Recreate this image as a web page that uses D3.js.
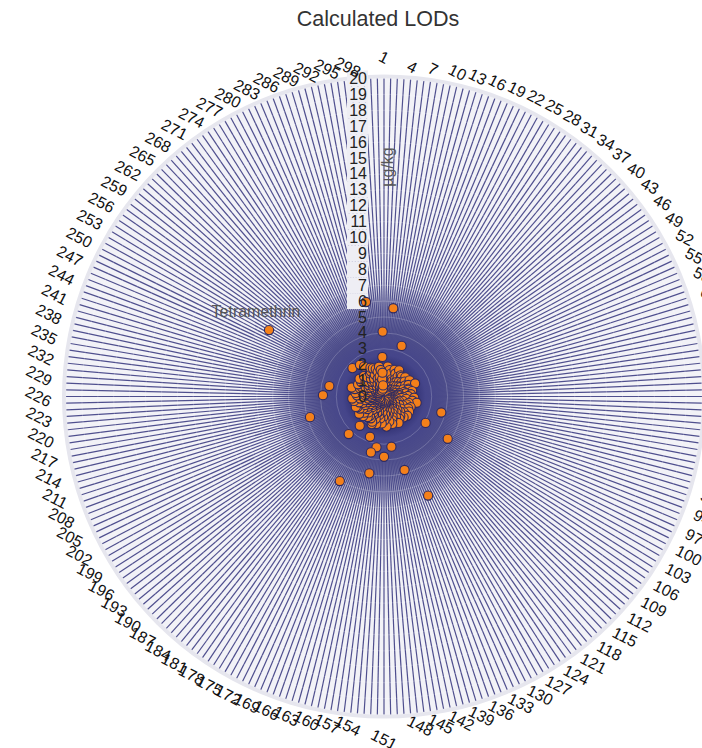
<!DOCTYPE html>
<html>
<head>
<meta charset="utf-8">
<script src="https://cdn.jsdelivr.net/npm/d3@7"></script>
<style>
  html, body { margin: 0; padding: 0; background: #fff; }
  svg { display: block; }
  text { font-family: "Liberation Sans", Arial, Helvetica, sans-serif; }
</style>
</head>
<body>
<svg id="chart" width="702" height="748"></svg>
<script>
// ---------------- data ----------------
const title = "Calculated LODs";
const radialTitle = "µg/kg";
const categories = d3.range(1, 301).map(String);
const angularTickLabels = categories.filter((d, i) => i % 3 === 0);
const radialTicks = [0,1,2,3,4,5,6,7,8,9,10,11,12,13,14,15,16,17,18,19,20];
const lodValues = [
  0.3, 1.6, 0.5, 1.3, 0.8, 5.58, 1.9, 0.4, 1.4, 0.7,
  1.7, 0.6, 1.28, 0.3, 1.5, 1.0, 3.37, 0.5, 1.8, 0.9,
  1.2, 0.4, 1.6, 0.8, 1.1, 1.9, 0.6, 1.3, 0.3, 1.5,
  0.8, 1.1, 1.7, 0.5, 1.2, 1.67, 0.9, 0.4, 1.3, 0.7,
  1.8, 0.6, 1.0, 1.4, 0.3, 1.6, 1.1, 0.5, 1.9, 0.8,
  1.2, 0.4, 1.5, 0.9, 1.7, 0.6, 2.12, 1.0, 1.3, 0.5,
  1.61, 0.8, 1.58, 0.4, 1.3, 1.0, 1.8, 0.6, 1.4, 0.9,
  0.5, 1.7, 1.0, 0.3, 1.5, 0.7, 1.2, 1.9, 0.6, 1.1,
  1.4, 0.5, 1.8, 0.8, 2.09, 0.4, 1.2, 1.6, 3.74, 0.7,
  1.0, 1.5, 0.4, 1.8, 0.9, 0.6, 1.3, 1.7, 0.5, 1.1,
  0.8, 1.84, 3.1, 4.81, 0.6, 1.3, 0.4, 1.6, 1.9, 1.0,
  0.7, 1.4, 0.3, 1.2, 1.8, 0.5, 1.0, 1.6, 0.8, 1.3,
  0.4, 1.7, 0.9, 1.1, 0.6, 1.5, 1.9, 0.5, 1.2, 0.8,
  6.82, 1.4, 0.4, 1.0, 1.57, 0.7, 1.8, 4.8, 0.5, 1.2,
  1.6, 0.9, 0.3, 3.19, 1.3, 0.6, 1.9, 1.1, 0.5, 1.5,
  3.79, 0.8, 1.3, 0.4, 1.7, 1.0, 0.6, 3.23, 1.4, 4.92,
  0.7, 3.61, 1.2, 1.8, 0.5, 1.0, 2.68, 1.5, 0.4, 1.1,
  1.9, 1.75, 0.6, 6.0, 1.3, 0.8, 1.6, 0.5, 1.2, 0.9,
  1.5, 0.4, 1.65, 2.39, 1.1, 0.7, 3.24, 1.4, 0.5, 1.8,
  1.0, 0.6, 1.6, 0.3, 1.3, 0.9, 1.9, 0.5, 1.2, 0.7,
  1.5, 1.0, 0.4, 1.7, 0.8, 1.3, 0.6, 1.8, 1.89, 1.1,
  0.5, 1.4, 4.83, 0.9, 1.6, 0.3, 1.2, 0.7, 1.9, 1.0,
  0.6, 1.5, 2.0, 0.8, 1.3, 0.4, 3.84, 1.7, 0.9, 1.2,
  0.5, 1.8, 1.1, 0.6, 3.5, 1.4, 0.8, 1.9, 2.11, 1.0,
  0.4, 1.6, 1.2, 0.7, 1.5, 0.9, 1.8, 0.5, 1.3, 1.1,
  8.35, 0.6, 1.7, 1.0, 0.4, 1.9, 1.2, 0.7, 1.5, 0.9,
  2.67, 1.3, 0.5, 1.8, 1.0, 0.6, 1.6, 1.2, 0.4, 2.5,
  1.4, 0.8, 2.26, 1.1, 1.7, 0.5, 1.3, 1.77, 0.9, 2.0,
  0.6, 1.5, 1.9, 0.7, 1.2, 0.4, 1.8, 1.0, 1.6, 0.8,
  1.3, 6.05, 1.9, 0.5, 1.68, 1.1, 0.7, 1.5, 2.49, 4.08
];
const annotationCats = ["251"];
const annotationTexts = ["Tetramethrin"];

// ---------------- layout ----------------
const svg = d3.select("#chart");
const cx = 384, cy = 396.5, R = 318;
const rScale = d3.scaleLinear().domain([0, 20]).range([0, R]);
const aScale = d3.scaleBand().domain(categories).range([0, 2 * Math.PI]).paddingInner(0).paddingOuter(0);
const px = (a, r) => cx + r * Math.sin(a);
const py = (a, r) => cy - r * Math.cos(a);

const data = categories.map((c, i) => ({ cat: c, value: lodValues[i] }));

// density gradient for the converging spokes
const defs = svg.append("defs");
const grad = defs.append("radialGradient").attr("id", "core")
  .attr("gradientUnits", "userSpaceOnUse")
  .attr("cx", cx).attr("cy", cy).attr("r", 115);
[[0, "#262664", 1], [0.25, "#2f2f70", 1], [0.36, "#45458a", 1], [0.55, "#4b4b89", 0.95],
 [0.75, "#4c4c8a", 0.55], [1, "#4c4c8a", 0]].forEach(s =>
  grad.append("stop").attr("offset", s[0]).attr("stop-color", s[1]).attr("stop-opacity", s[2]));

// title
svg.append("text")
  .attr("x", 378).attr("y", 26)
  .attr("text-anchor", "middle")
  .attr("font-size", 21.5)
  .attr("fill", "#333")
  .text(title);

const g = svg.append("g");

// background disk
g.append("circle").attr("cx", cx).attr("cy", cy).attr("r", R + 4)
  .attr("fill", "#e6e6ee");
g.append("circle").attr("cx", cx).attr("cy", cy).attr("r", R)
  .attr("fill", "#f2f2f7");

// radial spokes, one per category
g.append("g").selectAll("line").data(categories).join("line")
  .attr("x1", cx).attr("y1", cy)
  .attr("x2", d => px(aScale(d), R))
  .attr("y2", d => py(aScale(d), R))
  .attr("stroke", "#4f4f8e")
  .attr("stroke-width", 1.2);

// dense core
g.append("circle").attr("cx", cx).attr("cy", cy).attr("r", 115)
  .attr("fill", "url(#core)");

// circular grid (light, over spokes)
g.append("g").selectAll("circle").data(radialTicks.filter(t => t > 0)).join("circle")
  .attr("cx", cx).attr("cy", cy)
  .attr("r", d => rScale(d))
  .attr("fill", "none")
  .attr("stroke", "#ffffff")
  .attr("stroke-opacity", 0.2)
  .attr("stroke-width", 1);

// radial label backgrounds (outer part only)
g.append("g").selectAll("rect").data(radialTicks.filter(t => t >= 6)).join("rect")
  .attr("x", cx - 37).attr("width", 21)
  .attr("y", d => cy - rScale(d) - 8).attr("height", 16)
  .attr("fill", "#eeeef4");

// points
g.append("g").selectAll("circle").data(data).join("circle")
  .attr("cx", d => px(aScale(d.cat), rScale(d.value)))
  .attr("cy", d => py(aScale(d.cat), rScale(d.value)))
  .attr("r", 4.6)
  .attr("fill", "#f4801a")
  .attr("stroke", "#2d2a62")
  .attr("stroke-width", 1.1);

// radial tick labels
g.append("g").selectAll("text").data(radialTicks).join("text")
  .attr("x", cx - 17)
  .attr("y", d => cy - rScale(d))
  .attr("text-anchor", "end")
  .attr("dominant-baseline", "central")
  .attr("font-size", 16)
  .attr("fill", "#222")
  .text(d => d);

// radial axis title
svg.append("text")
  .attr("transform", `translate(${cx + 3},167) rotate(-90)`)
  .attr("text-anchor", "middle")
  .attr("dominant-baseline", "central")
  .attr("font-size", 16)
  .attr("fill", "#555")
  .text(radialTitle);

// angular tick labels: rotated, aligned like radar-chart labels
const rot = 27 * Math.PI / 180;
const labelR = 330;
const fs = 16;
const angG = svg.append("g");
angularTickLabels.forEach(d => {
  const i = categories.indexOf(d);
  const a = aScale(d);
  const t = angG.append("text")
    .attr("text-anchor", "middle")
    .attr("dominant-baseline", "central")
    .attr("font-size", fs)
    .attr("fill", "#111")
    .text(d);
  const w = t.node().getComputedTextLength();
  const h = fs;
  const W = w * Math.cos(rot) + h * Math.sin(rot);
  const H = w * Math.sin(rot) + h * Math.cos(rot);
  let x = cx + labelR * Math.sin(a), y = cy - labelR * Math.cos(a);
  if (i === 0) y -= H / 2;
  else if (i === categories.length / 2) y += H / 2;
  else if (i < categories.length / 2) x += W / 2;
  else x -= W / 2;
  t.attr("transform", `translate(${x},${y}) rotate(27)`);
});

// annotation
annotationCats.forEach((c, i) => {
  const v = lodValues[categories.indexOf(c)];
  const a = aScale(c);
  svg.append("text")
    .attr("x", px(a, rScale(v)) - 13)
    .attr("y", py(a, rScale(v)) - 13)
    .attr("text-anchor", "middle")
    .attr("font-size", 16)
    .attr("fill", "#555")
    .text(annotationTexts[i]);
});
</script>
</body>
</html>
